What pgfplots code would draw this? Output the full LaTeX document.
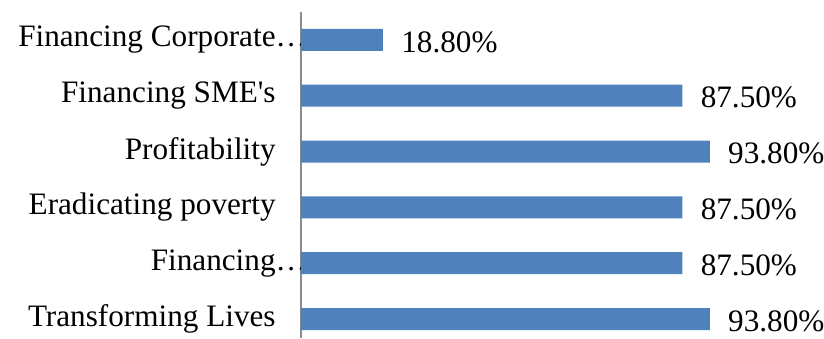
\documentclass[border=0pt]{standalone}
\usepackage{fontspec}
\setmainfont{Liberation Serif}
\usepackage{pgfplots}
\pgfplotsset{compat=1.18}
\definecolor{barblue}{HTML}{4F81BD}
\definecolor{axgray}{HTML}{8C8C8C}
\begin{document}
\fontsize{15.6}{19}\selectfont
\begin{tikzpicture}
\useasboundingbox (-150.5pt,0pt) rectangle (261.5pt,169pt);
\begin{axis}[
  at={(0,0)}, anchor=south west,
  scale only axis,
  width=261.5pt, height=163pt,
  xbar, bar width=11pt,
  xmin=0, xmax=120, ymin=-0.34, ymax=5.5,
  enlargelimits=false,
  axis x line=none,
  axis y line=left,
  axis line style={-, axgray, line width=0.8pt},
  ytick={0,1,2,3,4,5},
  yticklabels={Transforming Lives, Financing\rlap{…}, Eradicating poverty, Profitability, Financing SME\textquotesingle s, Financing Corporate\rlap{…}},
  major tick length=0pt,
  yticklabel style={anchor=east, inner sep=0pt, xshift=-12.5pt, font=\fontsize{15.6}{19}\selectfont},
  point meta=x,
  nodes near coords={\pgfmathprintnumber[fixed, fixed zerofill, precision=2, assume math mode=true]{\pgfplotspointmeta}\%},
  nodes near coords style={anchor=west, inner sep=0pt, xshift=9pt, yshift=-1pt, font=\fontsize{15.6}{19}\selectfont, text=black},
  clip=false,
]
\addplot[fill=barblue, draw=none] coordinates {
  (93.8,0) (87.5,1) (87.5,2) (93.8,3) (87.5,4) (18.8,5)
};
\end{axis}
\end{tikzpicture}
\end{document}
